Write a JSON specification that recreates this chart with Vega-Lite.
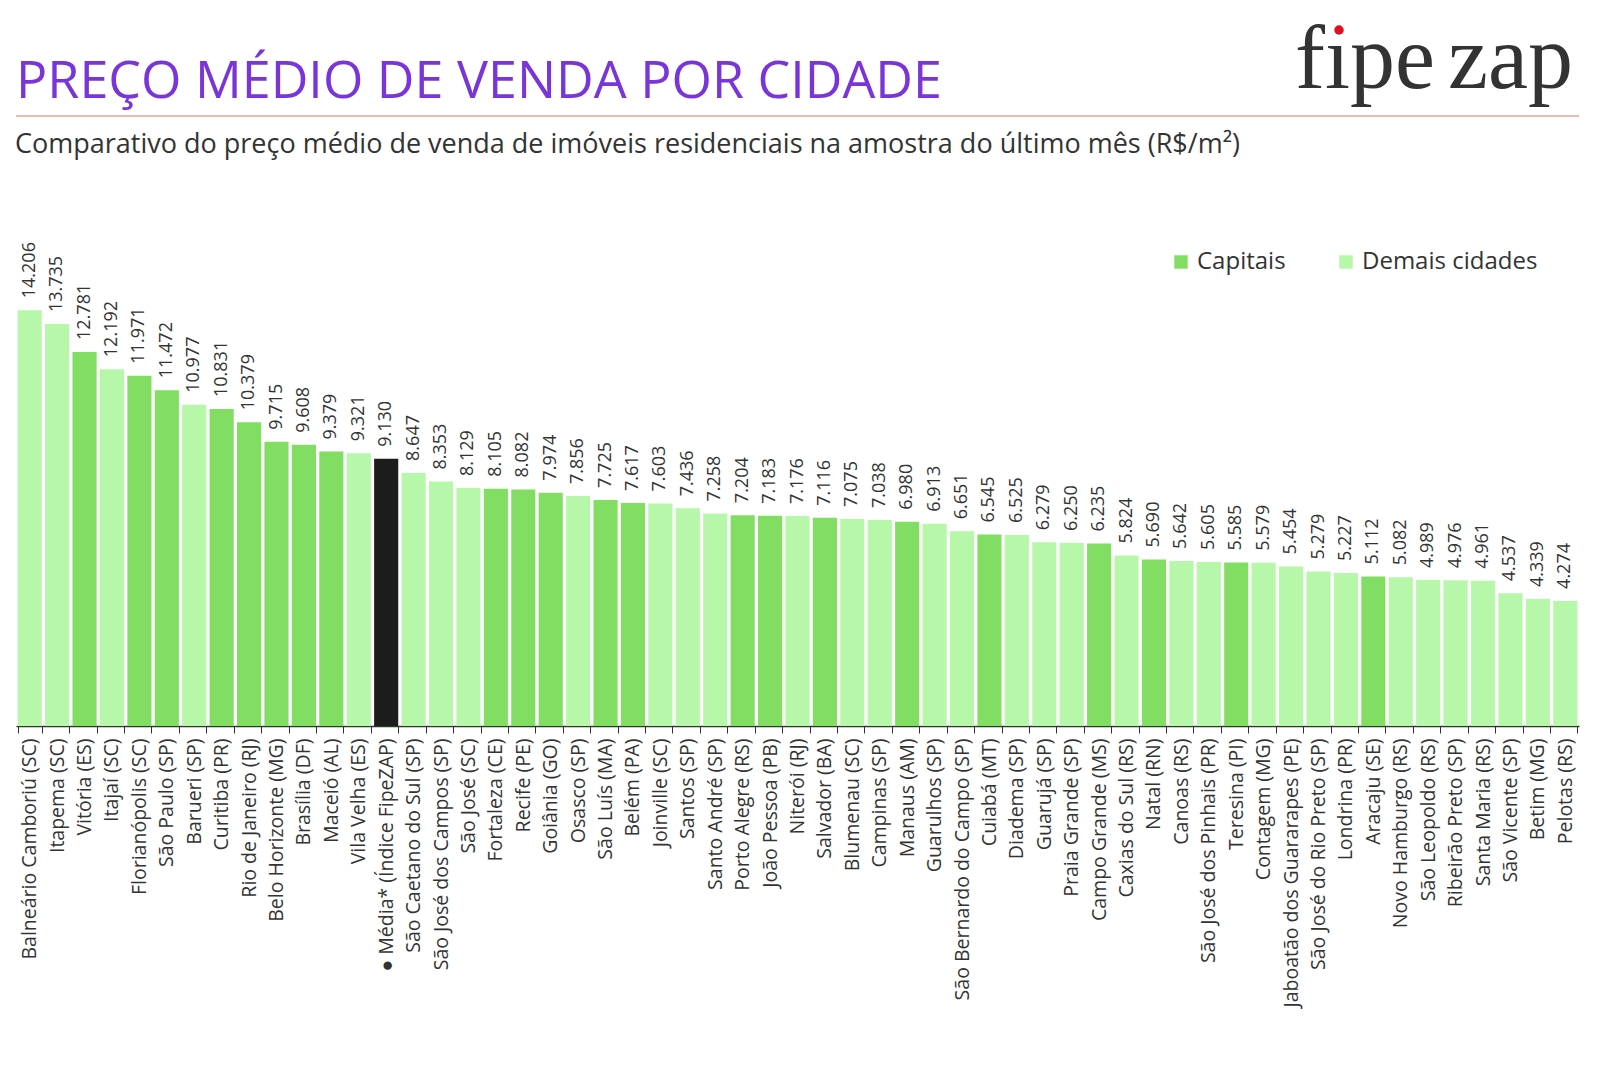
{
  "$schema": "https://vega.github.io/schema/vega-lite/v6.json",
  "width": 1563,
  "height": 439,
  "autosize": {"type": "none"},
  "padding": {"left": 16, "top": 287, "right": 41, "bottom": 354},
  "background": "white",
  "config": {
    "view": {"stroke": null},
    "font": "Open Sans",
    "locale": {"number": {"decimal": ",", "thousands": ".", "grouping": [3], "currency": ["R$", ""]}}
  },
  "data": {"values": [
    {"city": "Balneário Camboriú (SC)", "price": 14206, "type": "Demais cidades"},
    {"city": "Itapema (SC)", "price": 13735, "type": "Demais cidades"},
    {"city": "Vitória (ES)", "price": 12781, "type": "Capitais"},
    {"city": "Itajaí (SC)", "price": 12192, "type": "Demais cidades"},
    {"city": "Florianópolis (SC)", "price": 11971, "type": "Capitais"},
    {"city": "São Paulo (SP)", "price": 11472, "type": "Capitais"},
    {"city": "Barueri (SP)", "price": 10977, "type": "Demais cidades"},
    {"city": "Curitiba (PR)", "price": 10831, "type": "Capitais"},
    {"city": "Rio de Janeiro (RJ)", "price": 10379, "type": "Capitais"},
    {"city": "Belo Horizonte (MG)", "price": 9715, "type": "Capitais"},
    {"city": "Brasília (DF)", "price": 9608, "type": "Capitais"},
    {"city": "Maceió (AL)", "price": 9379, "type": "Capitais"},
    {"city": "Vila Velha (ES)", "price": 9321, "type": "Demais cidades"},
    {"city": "● Média* (Índice FipeZAP)", "price": 9130, "type": "Média"},
    {"city": "São Caetano do Sul (SP)", "price": 8647, "type": "Demais cidades"},
    {"city": "São José dos Campos (SP)", "price": 8353, "type": "Demais cidades"},
    {"city": "São José (SC)", "price": 8129, "type": "Demais cidades"},
    {"city": "Fortaleza (CE)", "price": 8105, "type": "Capitais"},
    {"city": "Recife (PE)", "price": 8082, "type": "Capitais"},
    {"city": "Goiânia (GO)", "price": 7974, "type": "Capitais"},
    {"city": "Osasco (SP)", "price": 7856, "type": "Demais cidades"},
    {"city": "São Luís (MA)", "price": 7725, "type": "Capitais"},
    {"city": "Belém (PA)", "price": 7617, "type": "Capitais"},
    {"city": "Joinville (SC)", "price": 7603, "type": "Demais cidades"},
    {"city": "Santos (SP)", "price": 7436, "type": "Demais cidades"},
    {"city": "Santo André (SP)", "price": 7258, "type": "Demais cidades"},
    {"city": "Porto Alegre (RS)", "price": 7204, "type": "Capitais"},
    {"city": "João Pessoa (PB)", "price": 7183, "type": "Capitais"},
    {"city": "Niterói (RJ)", "price": 7176, "type": "Demais cidades"},
    {"city": "Salvador (BA)", "price": 7116, "type": "Capitais"},
    {"city": "Blumenau (SC)", "price": 7075, "type": "Demais cidades"},
    {"city": "Campinas (SP)", "price": 7038, "type": "Demais cidades"},
    {"city": "Manaus (AM)", "price": 6980, "type": "Capitais"},
    {"city": "Guarulhos (SP)", "price": 6913, "type": "Demais cidades"},
    {"city": "São Bernardo do Campo (SP)", "price": 6651, "type": "Demais cidades"},
    {"city": "Cuiabá (MT)", "price": 6545, "type": "Capitais"},
    {"city": "Diadema (SP)", "price": 6525, "type": "Demais cidades"},
    {"city": "Guarujá (SP)", "price": 6279, "type": "Demais cidades"},
    {"city": "Praia Grande (SP)", "price": 6250, "type": "Demais cidades"},
    {"city": "Campo Grande (MS)", "price": 6235, "type": "Capitais"},
    {"city": "Caxias do Sul (RS)", "price": 5824, "type": "Demais cidades"},
    {"city": "Natal (RN)", "price": 5690, "type": "Capitais"},
    {"city": "Canoas (RS)", "price": 5642, "type": "Demais cidades"},
    {"city": "São José dos Pinhais (PR)", "price": 5605, "type": "Demais cidades"},
    {"city": "Teresina (PI)", "price": 5585, "type": "Capitais"},
    {"city": "Contagem (MG)", "price": 5579, "type": "Demais cidades"},
    {"city": "Jaboatão dos Guararapes (PE)", "price": 5454, "type": "Demais cidades"},
    {"city": "São José do Rio Preto (SP)", "price": 5279, "type": "Demais cidades"},
    {"city": "Londrina (PR)", "price": 5227, "type": "Demais cidades"},
    {"city": "Aracaju (SE)", "price": 5112, "type": "Capitais"},
    {"city": "Novo Hamburgo (RS)", "price": 5082, "type": "Demais cidades"},
    {"city": "São Leopoldo (RS)", "price": 4989, "type": "Demais cidades"},
    {"city": "Ribeirão Preto (SP)", "price": 4976, "type": "Demais cidades"},
    {"city": "Santa Maria (RS)", "price": 4961, "type": "Demais cidades"},
    {"city": "São Vicente (SP)", "price": 4537, "type": "Demais cidades"},
    {"city": "Betim (MG)", "price": 4339, "type": "Demais cidades"},
    {"city": "Pelotas (RS)", "price": 4274, "type": "Demais cidades"}
  ]},
  "layer": [
    {
      "mark": {"type": "bar"},
      "encoding": {
        "x": {
          "field": "city", "type": "nominal", "sort": null,
          "scale": {"paddingInner": 0.12, "paddingOuter": 0.06},
          "axis": {
            "title": null, "labelAngle": 270, "labelFontSize": 19.5, "labelColor": "#333333",
            "labelFont": "Open Sans", "domainColor": "#2a3a2a", "domainWidth": 1.5,
            "tickColor": "#2a3a2a", "tickSize": 7, "tickBand": "extent", "labelPadding": 5, "labelLimit": 400
          }
        },
        "y": {
          "field": "price", "type": "quantitative",
          "scale": {"domain": [0, 15000], "nice": false},
          "axis": null
        },
        "color": {
          "field": "type", "type": "nominal",
          "scale": {"domain": ["Capitais", "Demais cidades", "Média"], "range": ["#82DE62", "#B7F7A9", "#1C1C1C"]},
          "legend": {
            "values": ["Capitais", "Demais cidades"],
            "title": null, "orient": "none", "legendX": 1153, "legendY": -37,
            "direction": "horizontal", "symbolType": "square", "symbolSize": 180,
            "symbolStrokeWidth": 0, "labelFontSize": 24, "labelColor": "#333333",
            "labelFont": "Open Sans", "columnPadding": 48, "labelOffset": 4, "labelLimit": 400
          }
        }
      }
    },
    {
      "mark": {"type": "text", "angle": 270, "align": "left", "baseline": "middle", "dx": 12, "fontSize": 18, "color": "#333333", "font": "Open Sans"},
      "encoding": {
        "x": {"field": "city", "type": "nominal", "sort": null},
        "y": {"field": "price", "type": "quantitative"},
        "text": {"field": "price", "type": "quantitative", "format": ",d"}
      }
    },
    {
      "data": {"values": [{"t": "PREÇO MÉDIO DE VENDA POR CIDADE"}]},
      "mark": {"type": "text", "font": "Open Sans", "fontSize": 52, "color": "#7A35D8", "align": "left", "baseline": "alphabetic"},
      "encoding": {"x": {"value": 0}, "y": {"value": -189}, "text": {"field": "t"}}
    },
    {
      "data": {"values": [{"t": "Comparativo do preço médio de venda de imóveis residenciais na amostra do último mês (R$/m²)"}]},
      "mark": {"type": "text", "font": "Open Sans", "fontSize": 27, "color": "#333333", "align": "left", "baseline": "alphabetic"},
      "encoding": {"x": {"value": -1}, "y": {"value": -134}, "text": {"field": "t"}}
    },
    {
      "data": {"values": [{}]},
      "mark": {"type": "rule", "color": "#F1B9B2", "strokeWidth": 2},
      "encoding": {"x": {"value": 0}, "x2": {"value": 1563}, "y": {"value": -171}}
    },
    {
      "data": {"values": [{"logo": "fıpe"}]},
      "mark": {"type": "text", "font": "Liberation Serif", "fontSize": 90, "color": "#333333", "align": "left", "baseline": "alphabetic"},
      "encoding": {"x": {"value": 1279}, "y": {"value": -199}, "text": {"field": "logo"}}
    },
    {
      "data": {"values": [{"logo": "zap"}]},
      "mark": {"type": "text", "font": "Liberation Serif", "fontSize": 90, "color": "#333333", "align": "left", "baseline": "alphabetic"},
      "encoding": {"x": {"value": 1432}, "y": {"value": -199}, "text": {"field": "logo"}}
    },
    {
      "data": {"values": [{}]},
      "mark": {"type": "point", "filled": true, "color": "#E01020", "size": 90, "opacity": 1},
      "encoding": {"x": {"value": 1323}, "y": {"value": -257}}
    }
  ]
}
